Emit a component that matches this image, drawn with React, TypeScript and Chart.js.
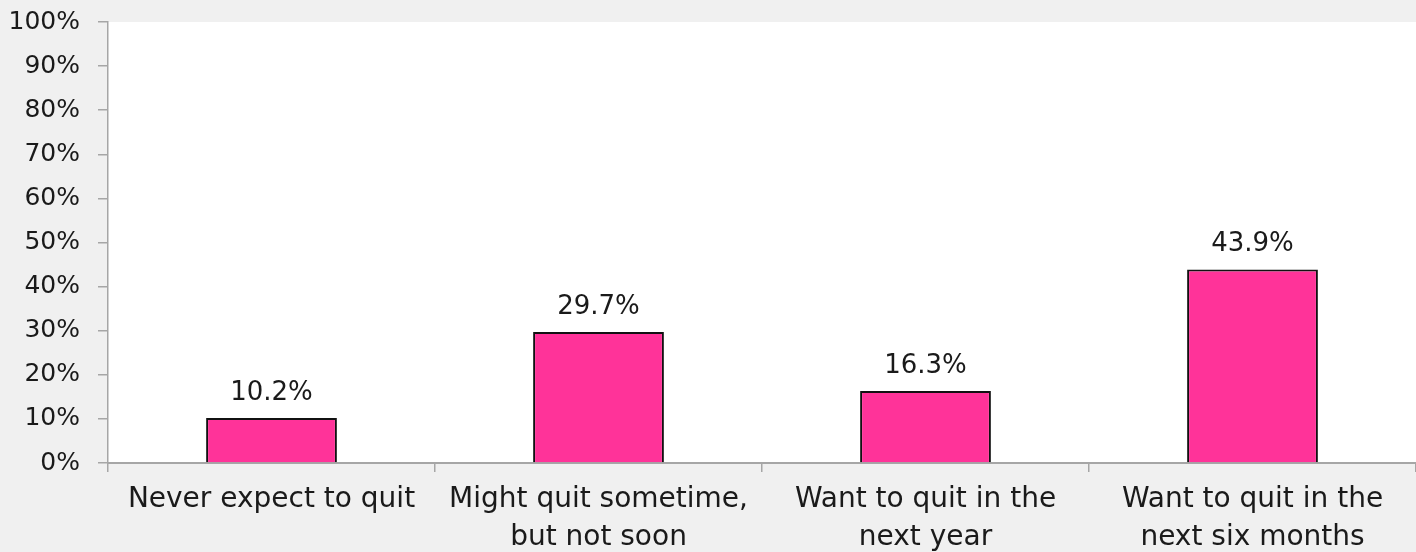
import React, { useEffect, useRef } from "react";
import { Chart, registerables } from "chart.js";

Chart.register(...registerables);

const categories: string[][] = [
  ["Never expect to quit"],
  ["Might quit sometime,", "but not soon"],
  ["Want to quit in the", "next year"],
  ["Want to quit in the", "next six months"],
];
const values: number[] = [10.2, 29.7, 16.3, 43.9];
const yTicks: number[] = [0, 10, 20, 30, 40, 50, 60, 70, 80, 90, 100];

const FONT = "'DejaVu Sans', sans-serif";
const TEXT = "#1a1a1a";
const AXIS = "#a6a6a6";

const bgPlugin = {
  id: "bgPlugin",
  beforeDraw(chart: any) {
    const { ctx, chartArea, width, height } = chart;
    ctx.save();
    ctx.fillStyle = "#f0f0f0";
    ctx.fillRect(0, 0, width, height);
    ctx.fillStyle = "#ffffff";
    ctx.fillRect(chartArea.left, chartArea.top, chartArea.right - chartArea.left, chartArea.bottom - chartArea.top);
    ctx.restore();
  },
};

const labelPlugin = {
  id: "labelPlugin",
  afterDatasetsDraw(chart: any) {
    const { ctx } = chart;
    const meta = chart.getDatasetMeta(0);
    ctx.save();
    ctx.fillStyle = TEXT;
    ctx.font = `26px ${FONT}`;
    ctx.textAlign = "center";
    ctx.textBaseline = "alphabetic";
    meta.data.forEach((bar: any, i: number) => {
      ctx.fillText(values[i].toFixed(1) + "%", bar.x, bar.y - 18);
    });
    ctx.restore();
  },
};

export default function App() {
  const ref = useRef<HTMLCanvasElement>(null);
  useEffect(() => {
    if (!ref.current) return;
    const chart = new Chart(ref.current, {
      type: "bar",
      data: {
        labels: categories,
        datasets: [
          {
            data: values,
            backgroundColor: "#ff3399",
            borderColor: "#111111",
            borderWidth: 2,
            barPercentage: 0.4,
            categoryPercentage: 1,
          },
        ],
      },
      options: {
        animation: false,
        responsive: true,
        maintainAspectRatio: false,
        layout: { padding: { top: 22, right: 0, bottom: 0, left: 0 } },
        plugins: { legend: { display: false }, tooltip: { enabled: false } },
        scales: {
          x: {
            grid: {
              display: true,
              offset: true,
              drawOnChartArea: false,
              tickLength: 9,
              color: AXIS,
              lineWidth: 1.5,
            },
            border: { display: true, color: AXIS, width: 2 },
            ticks: {
              color: TEXT,
              font: { family: FONT, size: 28, lineHeight: 38 / 28 },
              padding: 9,
              maxRotation: 0,
              autoSkip: false,
            },
            afterFit(scale: any) {
              scale.height = 89;
              scale.paddingLeft = 0;
              scale.paddingRight = 0;
            },
          },
          y: {
            min: 0,
            max: 100,
            afterBuildTicks(scale: any) {
              scale.ticks = yTicks.map((v) => ({ value: v }));
            },
            grid: {
              display: true,
              drawOnChartArea: false,
              tickLength: 10,
              color: AXIS,
              lineWidth: 1.5,
            },
            border: { display: true, color: AXIS, width: 1.5 },
            ticks: {
              color: TEXT,
              font: { family: FONT, size: 25 },
              padding: 18,
              callback: (v: any) => v + "%",
            },
            afterFit(scale: any) {
              scale.width = 108;
              scale.paddingTop = 0;
              scale.paddingBottom = 0;
            },
          },
        },
      },
      plugins: [bgPlugin, labelPlugin],
    });
    return () => chart.destroy();
  }, []);
  return (
    <div style={{ position: "fixed", left: 0, top: 0, width: 1416, height: 552, background: "#f0f0f0" }}>
      <canvas ref={ref} />
    </div>
  );
}
